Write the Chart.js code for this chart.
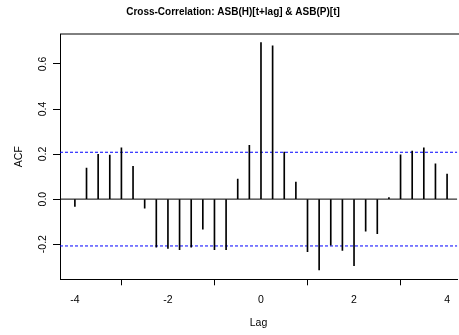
<!DOCTYPE html>
<html>
<head>
<meta charset="utf-8">
<script src="https://cdn.jsdelivr.net/npm/chart.js@4.4.1/dist/chart.umd.min.js"></script>
<style>
  html, body { margin: 0; padding: 0; background: #fff; overflow: hidden; }
  #wrap { width: 459px; height: 335px; position: relative; }
</style>
</head>
<body>
<div id="wrap"><canvas id="ccf"></canvas></div>
<script>
// lags in years (quarterly data -> step 0.25)
const lags = [-4, -3.75, -3.5, -3.25, -3, -2.75, -2.5, -2.25, -2, -1.75, -1.5, -1.25, -1, -0.75, -0.5, -0.25,
  0, 0.25, 0.5, 0.75, 1, 1.25, 1.5, 1.75, 2, 2.25, 2.5, 2.75, 3, 3.25, 3.5, 3.75, 4];
const acf = [-0.033, 0.138, 0.199, 0.196, 0.228, 0.145, -0.040, -0.213, -0.219, -0.225, -0.213, -0.133, -0.224, -0.225, 0.089, 0.239,
  0.695, 0.681, 0.209, 0.076, -0.233, -0.314, -0.204, -0.228, -0.295, -0.142, -0.153, 0.007, 0.197, 0.213, 0.228, 0.157, 0.111];
const ciBound = 0.208; // 2/sqrt(n)
const xTicks = [-4, -2, 0, 2, 4];
const yTicks = [-0.2, 0, 0.2, 0.4, 0.6];
const titleText = 'Cross-Correlation: ASB(H)[t+lag] & ASB(P)[t]';

const fontFam = '"Liberation Sans", Arial, Helvetica, sans-serif';

// zero line, blue bounds, box and title
const extras = {
  id: 'extras',
  beforeDatasetsDraw(chart) {
    const { ctx, chartArea: a, scales: { y } } = chart;
    ctx.save();
    ctx.lineWidth = 1;
    ctx.strokeStyle = '#000';
    const y0 = y.getPixelForValue(0);
    ctx.beginPath(); ctx.moveTo(a.left, y0); ctx.lineTo(a.right, y0); ctx.stroke();
    ctx.strokeStyle = '#0000ff';
    ctx.setLineDash([3, 2]);
    [ciBound, -ciBound].forEach(v => {
      const py = y.getPixelForValue(v);
      ctx.beginPath(); ctx.moveTo(a.left, py); ctx.lineTo(a.right, py); ctx.stroke();
    });
    ctx.restore();
  },
  afterDraw(chart) {
    const { ctx, chartArea: a } = chart;
    ctx.save();
    ctx.strokeStyle = '#000';
    ctx.lineWidth = 1;
    ctx.beginPath();
    ctx.moveTo(a.left, a.top); ctx.lineTo(a.right + 2, a.top);
    ctx.stroke();
    ctx.fillStyle = '#000';
    ctx.font = 'bold 10px ' + fontFam;
    ctx.textAlign = 'center';
    ctx.textBaseline = 'middle';
    ctx.fillText(titleText, 233, 12);
    ctx.restore();
  }
};

new Chart(document.getElementById('ccf'), {
  type: 'bar',
  data: {
    datasets: [{
      data: lags.map((l, i) => ({ x: l, y: acf[i] })),
      backgroundColor: '#000',
      borderWidth: 0,
      barThickness: 1
    }]
  },
  options: {
    responsive: true,
    maintainAspectRatio: false,
    animation: false,
    layout: { padding: { top: 34, right: 0, left: 0, bottom: 0 } },
    plugins: { legend: { display: false }, tooltip: { enabled: false }, title: { display: false } },
    scales: {
      x: {
        type: 'linear',
        min: -4.32,
        max: 4.215,
        offset: false,
        afterBuildTicks: s => { s.ticks = xTicks.map(v => ({ value: v })); },
        afterFit: s => { s.height = 55.7; },
        grid: { drawOnChartArea: false, drawTicks: true, tickLength: 6, color: '#000' },
        border: { display: true, color: '#000', width: 1 },
        ticks: { color: '#000', font: { family: fontFam, size: 10.5 }, padding: 9, maxRotation: 0, callback: v => String(v) },
        title: { display: true, text: 'Lag', color: '#000', font: { family: fontFam, size: 10.5 }, padding: { top: 6, bottom: 6 } }
      },
      y: {
        min: -0.356,
        max: 0.733,
        afterBuildTicks: s => { s.ticks = yTicks.map(v => ({ value: v })); },
        afterFit: s => { s.width = 60; },
        grid: { drawOnChartArea: false, drawTicks: true, tickLength: 7, color: '#000' },
        border: { display: true, color: '#000', width: 1 },
        ticks: { color: '#000', font: { family: fontFam, size: 10.5 }, minRotation: 90, maxRotation: 90, crossAlign: 'center', padding: 1, callback: v => v.toFixed(1) },
        title: { display: true, text: 'ACF', color: '#000', font: { family: fontFam, size: 10.5 }, padding: { top: 13, bottom: 13 } }
      }
    }
  },
  plugins: [extras]
});
</script>
</body>
</html>
